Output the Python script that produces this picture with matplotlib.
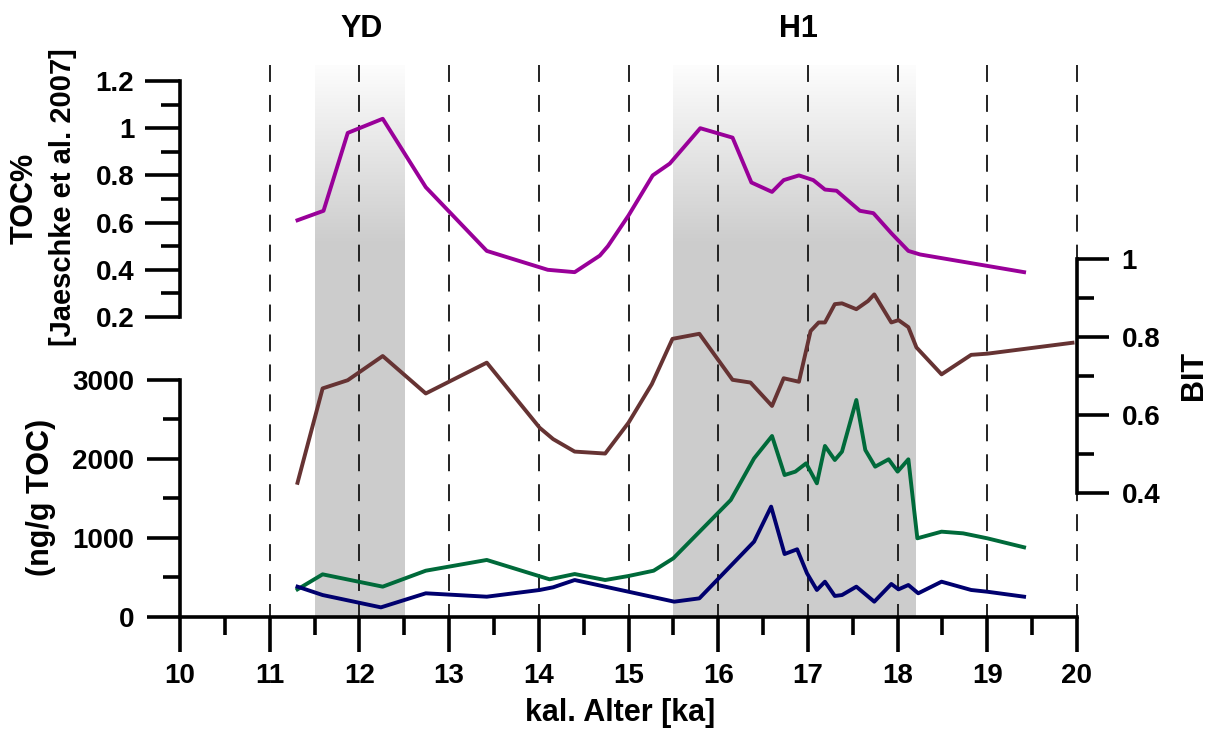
import numpy as np
import matplotlib
matplotlib.use("Agg")
import matplotlib.pyplot as plt

plt.rcParams['font.family'] = ['Liberation Sans', 'DejaVu Sans']
plt.rcParams['font.weight'] = 'bold'

# TOC% (Jaeschke et al. 2007)
toc_age = [11.31, 11.60, 11.87, 12.26, 12.74, 13.42, 14.10, 14.40, 14.68, 14.77,
           15.00, 15.27, 15.46, 15.80, 16.16, 16.37, 16.60, 16.73, 16.90, 17.06,
           17.19, 17.32, 17.58, 17.73, 17.93, 18.12, 18.25, 19.41]
toc_val = [0.61, 0.65, 0.98, 1.04, 0.75, 0.48, 0.40, 0.39, 0.46, 0.50,
           0.63, 0.80, 0.85, 1.00, 0.96, 0.77, 0.73, 0.78, 0.80, 0.78,
           0.74, 0.735, 0.65, 0.64, 0.555, 0.48, 0.465, 0.39]

# BIT index
bit_age = [11.31, 11.59, 11.87, 12.26, 12.74, 13.42, 14.01, 14.16, 14.40, 14.74,
           15.00, 15.26, 15.49, 15.79, 16.16, 16.36, 16.60, 16.73, 16.90, 17.03,
           17.12, 17.19, 17.30, 17.38, 17.54, 17.67, 17.74, 17.93, 18.01, 18.12,
           18.21, 18.49, 18.82, 19.00, 19.95]
bit_val = [0.426, 0.668, 0.689, 0.751, 0.655, 0.734, 0.567, 0.538, 0.506, 0.501,
           0.580, 0.679, 0.795, 0.808, 0.690, 0.683, 0.623, 0.694, 0.685, 0.815,
           0.837, 0.837, 0.884, 0.886, 0.871, 0.892, 0.909, 0.837, 0.843, 0.825,
           0.773, 0.704, 0.754, 0.757, 0.785]

# concentrations (ng/g TOC)
green_age = [11.31, 11.59, 12.26, 12.74, 13.42, 14.12, 14.40, 14.74, 15.00, 15.28,
             15.50, 16.14, 16.40, 16.60, 16.74, 16.86, 16.98, 17.10, 17.19, 17.30,
             17.38, 17.54, 17.64, 17.75, 17.90, 18.00, 18.12, 18.22, 18.49, 18.73,
             19.00, 19.41]
green_val = [350, 540, 384, 586, 722, 477, 544, 468, 519, 586,
             743, 1481, 2008, 2291, 1797, 1840, 1945, 1692, 2165, 1987,
             2093, 2747, 2114, 1903, 1996, 1840, 1996, 996, 1080, 1059,
             996, 882]

blue_age = [11.31, 11.59, 12.24, 12.74, 13.42, 14.01, 14.16, 14.40, 14.74, 15.00,
            15.51, 15.79, 16.40, 16.59, 16.74, 16.88, 16.99, 17.10, 17.19, 17.30,
            17.38, 17.54, 17.74, 17.93, 18.01, 18.12, 18.23, 18.49, 18.82, 19.00,
            19.41]
blue_val = [384, 278, 122, 300, 257, 342, 376, 468, 384, 320,
            194, 236, 954, 1397, 797, 857, 553, 342, 447, 266,
            278, 384, 194, 418, 350, 405, 300, 447, 342, 320,
            257]

# cold events
events = {'YD': (11.5, 12.5), 'H1': (15.5, 18.2)}
event_label_x = {'YD': 12.02, 'H1': 16.89}

W, H = 1213, 729
fig = plt.figure(figsize=(W / 100, H / 100), dpi=100)
ax = fig.add_axes([180 / W, (H - 617) / H, 897 / W, 552 / H])

ytop = 6987
ax.set_xlim(10, 20)
ax.set_ylim(0, ytop)

# grey bands fading to white towards the top
n = 552
ypix = 617 - (np.arange(n) + 0.5)
g = np.clip(0.8 + 0.2 * (245 - ypix) / (245 - 58), 0.8, 1.0)
grad = np.repeat(g[:, None, None], 3, axis=2)
for name, (x0, x1) in events.items():
    ax.imshow(grad, extent=(x0, x1, 0, ytop), origin='lower', aspect='auto',
              interpolation='nearest', zorder=0)
ax.set_xlim(10, 20)
ax.set_ylim(0, ytop)

for x in range(11, 21):
    ax.plot([x, x], [ytop, 0], color='#222222', lw=1.4,
            linestyle=(0, (8.7, 6.7)), zorder=1, clip_on=False)

ax.plot(green_age, green_val, color='#006a3a', lw=2.8, zorder=3)
ax.plot(blue_age, blue_val, color='#00006e', lw=2.8, zorder=3)

for s in ['top', 'right']:
    ax.spines[s].set_visible(False)
ax.spines['left'].set_bounds(0, 3000)
for s in ['left', 'bottom']:
    ax.spines[s].set_linewidth(2.6)
ax.set_yticks([0, 1000, 2000, 3000])
ax.set_yticklabels(['0', '1000', '2000', '3000'])
ax.set_yticks([500, 1500, 2500], minor=True)
ax.set_xticks(range(10, 21))
ax.set_xticks(np.arange(10.5, 20, 1.0), minor=True)
ax.tick_params(axis='x', which='major', length=25, width=2.6, pad=8, labelsize=20)
ax.tick_params(axis='x', which='minor', length=13, width=2.6)
ax.tick_params(axis='y', which='major', length=24, width=2.6, pad=9, labelsize=20)
ax.tick_params(axis='y', which='minor', length=12, width=2.6)

# TOC% axis on the left, upper part
ax_toc = ax.twinx()
ax_toc.set_ylim(-1.0712, 1.2678)
ax_toc.plot(toc_age, toc_val, color='#990099', lw=2.8)
for s in ['top', 'right', 'bottom']:
    ax_toc.spines[s].set_visible(False)
ax_toc.spines['left'].set_visible(True)
ax_toc.spines['left'].set_bounds(0.2, 1.2)
ax_toc.spines['left'].set_linewidth(2.6)
ax_toc.yaxis.tick_left()
ax_toc.set_yticks([0.2, 0.4, 0.6, 0.8, 1.0, 1.2])
ax_toc.set_yticklabels(['0.2', '0.4', '0.6', '0.8', '1', '1.2'])
ax_toc.set_yticks([0.3, 0.5, 0.7, 0.9, 1.1], minor=True)
ax_toc.tick_params(axis='y', which='major', length=25, width=2.6, pad=8, labelsize=20)
ax_toc.tick_params(axis='y', which='minor', length=14, width=2.6)

# BIT axis on the right
ax_bit = ax.twinx()
ax_bit.set_ylim(0.082, 1.497)
ax_bit.plot(bit_age, bit_val, color='#663333', lw=2.8)
for s in ['top', 'left', 'bottom']:
    ax_bit.spines[s].set_visible(False)
ax_bit.spines['right'].set_bounds(0.4, 1.0)
ax_bit.spines['right'].set_linewidth(2.6)
ax_bit.set_yticks([0.4, 0.6, 0.8, 1.0])
ax_bit.set_yticklabels(['0.4', '0.6', '0.8', '1'])
ax_bit.set_yticks([0.5, 0.7, 0.9], minor=True)
ax_bit.tick_params(axis='y', which='major', length=23, width=2.6, pad=9, labelsize=20)
ax_bit.tick_params(axis='y', which='minor', length=12, width=2.6)

for a in (ax_toc, ax_bit):
    a.set_xlim(10, 20)

# event names above the plot
for name in events:
    fig.text((180 + 89.7 * (event_label_x[name] - 10)) / W, 1 - 29 / H, name,
             fontsize=22, ha='center', va='center')

fig.text(25 / W, 1 - 198 / H, 'TOC%', fontsize=22, rotation=90,
         ha='center', va='center')
fig.text(63 / W, 1 - 197 / H, '[Jaeschke et al. 2007]', fontsize=21,
         rotation=90, ha='center', va='center')
fig.text(41 / W, 1 - 497 / H, '(ng/g TOC)', fontsize=22, rotation=90,
         ha='center', va='center')
fig.text(1194 / W, 1 - 375 / H, 'BIT', fontsize=22, rotation=90,
         ha='center', va='center')
fig.text(620 / W, 1 - 713 / H, 'kal. Alter [ka]', fontsize=22,
         ha='center', va='center')

fig.savefig('out.png', dpi=100)
